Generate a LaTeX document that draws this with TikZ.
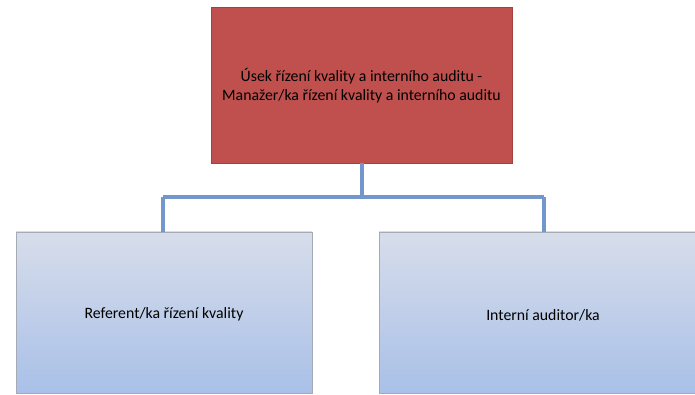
\documentclass[tikz,border=0pt]{standalone}
\usepackage{fontspec}
\setmainfont{Carlito}
\usetikzlibrary{shadows}
\definecolor{redfill}{HTML}{C0504D}
\definecolor{redline}{HTML}{8C3836}
\definecolor{conn}{HTML}{7397CC}
\definecolor{bluetop}{HTML}{D7DDEA}
\definecolor{bluebot}{HTML}{A9C0E8}
\definecolor{blueline}{HTML}{A6AAB4}
\tikzset{
  x=1pt,y=1pt,
  txt/.style={font=\fontsize{15.8}{18.5}\selectfont, align=center, text=black},
  topbox/.style={draw=redline!60!redfill, line width=0.6pt, fill=redfill, inner sep=0pt,
    drop shadow={opacity=0.35, shadow xshift=1.2pt, shadow yshift=-1.5pt}},
  subbox/.style={draw=blueline, line width=0.8pt, top color=bluetop, bottom color=bluebot, inner sep=0pt,
    drop shadow={opacity=0.3, shadow xshift=1.2pt, shadow yshift=-1.5pt}},
  link/.style={draw=conn, line width=3.2pt}
}
\begin{document}
\begin{tikzpicture}
\useasboundingbox (0,0) rectangle (695,395);
\node[topbox, minimum width=301pt, minimum height=156pt] (top) at (361.5,310) {};
\node[txt] (toptxt) at (361.5,309.5) {Úsek řízení kvality a interního auditu -\\Manažer/ka řízení kvality a interního auditu};
\node[subbox, minimum width=296pt, minimum height=161pt] (left) at (164,82.5) {};
\node[txt] (lefttxt) at (164,80.5) {Referent/ka řízení kvality};
\node[subbox, minimum width=328pt, minimum height=161pt] (right) at (543,82.5) {};
\node[txt] (righttxt) at (543,80) {Interní auditor/ka};
\coordinate (mid) at (362,198);
\coordinate (lj) at (163,198);
\coordinate (rj) at (544,198);
\draw[link] (top.south -| mid) -- (mid);
\draw[link] (lj) -- (rj);
\draw[link] (lj) -- (lj |- left.north);
\draw[link] (rj) -- (rj |- right.north);
\end{tikzpicture}
\end{document}
